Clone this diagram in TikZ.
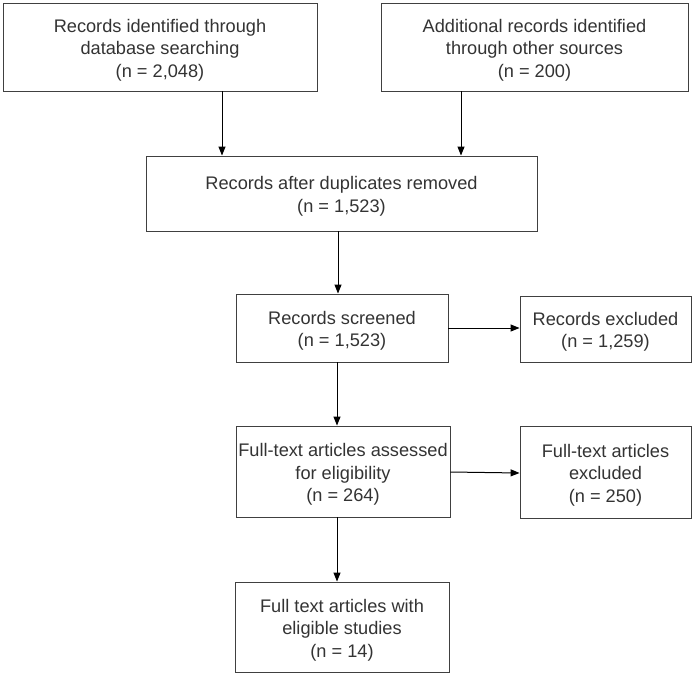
\documentclass[tikz,border=0pt]{standalone}
\usepackage{fontspec}
\setmainfont{Liberation Sans}
\usetikzlibrary{arrows.meta}
\begin{document}
\begin{tikzpicture}[x=1pt,y=-1pt,
  box/.style={draw=black!75, line width=0.9pt, inner sep=0pt,
    label={[lbl]center:#1}},
  lbl/.style={align=center, inner sep=0pt, yshift=-3pt,
    font=\fontsize{18.2}{22.5}\selectfont, text=black!80},
  arr/.style={draw=black, line width=1pt, -{Triangle[length=9pt,width=7pt]}}]
\useasboundingbox (0,0) rectangle (693,674);
\node[box={Records identified through\\database searching\\(n = 2,048)},
  minimum width=314pt, minimum height=88pt] (b1) at (160,47) {};
\node[box={Additional records identified\\through other sources\\(n = 200)},
  minimum width=307pt, minimum height=88pt] (b2) at (534.5,47) {};
\node[box={Records after duplicates removed\\(n = 1,523)},
  minimum width=391pt, minimum height=75pt] (b3) at (341.5,193.5) {};
\node[box={Records screened\\(n = 1,523)},
  minimum width=212pt, minimum height=68pt] (b4) at (342,328) {};
\node[box={Records excluded\\(n = 1,259)},
  minimum width=171pt, minimum height=66pt] (b5) at (605.5,329) {};
\node[box={Full-text articles assessed\\for eligibility\\(n = 264)},
  minimum width=214pt, minimum height=91pt] (b6) at (343,471.5) {};
\node[box={Full-text articles\\excluded\\(n = 250)},
  minimum width=171pt, minimum height=92pt] (b7) at (605.5,472) {};
\node[box={Full text articles with\\eligible studies\\(n = 14)},
  minimum width=214pt, minimum height=90pt] (b8) at (342,627) {};
\draw[arr] (b1.south -| 222,0) -- (b3.north -| 222,0);
\draw[arr] (b2.south -| 461,0) -- (b3.north -| 461,0);
\draw[arr] (b3.south -| 338,0) -- (b4.north -| 338,0);
\draw[arr] (b4.east |- 0,328) -- (b5.west |- 0,328);
\draw[arr] (b4.south -| 337,0) -- (b6.north -| 337,0);
\draw[arr] (b6.east |- 0,472) -- (b7.west |- 0,473);
\draw[arr] (b6.south -| 337,0) -- (b8.north -| 337,0);
\end{tikzpicture}
\end{document}
